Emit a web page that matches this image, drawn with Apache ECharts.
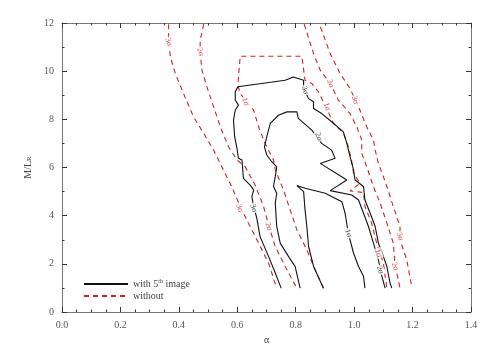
<!DOCTYPE html>
<html>
<head>
<meta charset="utf-8">
<script src="https://cdn.jsdelivr.net/npm/echarts@6/dist/echarts.min.js"></script>
<style>
  html, body { margin: 0; padding: 0; background: #fff; }
  #main { width: 491px; height: 351px; }
</style>
</head>
<body>
<div id="main"></div>
<script>
// contours "with 5th image" (solid black)
var black3 = [[0.75,0.99],[0.73,1.62],[0.707,2.31],[0.678,3.13],[0.667,3.89],[0.656,4.38],[0.65,4.79],[0.656,5.07],
  [0.644,5.27],[0.621,5.55],[0.616,6.31],[0.604,6.38],[0.599,6.79],[0.591,7.28],[0.587,7.97],[0.593,8.38],[0.604,8.59],
  [0.593,8.8],[0.593,9.14],[0.602,9.35],[0.764,9.62],[0.792,9.76],[0.827,9.62],[0.827,9.28],[0.844,8.86],[0.861,8.73],
  [0.861,8.45],[0.889,8.24],[0.923,7.9],[0.963,7.48],[0.975,7.0],[0.986,6.45],[0.998,5.9],[1.003,5.48],[1.032,5.21],
  [1.037,4.65],[1.055,4.1],[1.072,3.55],[1.083,2.86],[1.1,2.31],[1.112,1.89],[1.123,1.2],[1.129,0.99]];
var black2 = [[0.815,0.99],[0.798,1.89],[0.775,2.31],[0.747,2.86],[0.735,3.55],[0.73,4.52],[0.735,4.93],[0.724,5.21],
  [0.73,5.62],[0.735,6.03],[0.718,6.24],[0.701,6.52],[0.693,6.86],[0.701,7.28],[0.713,7.83],[0.741,8.17],[0.77,8.31],
  [0.804,8.31],[0.809,8.04],[0.855,7.55],[0.889,7.0],[0.923,6.72],[0.935,6.38],[0.884,6.17],[0.975,5.48],[0.918,5.04],
  [0.992,4.86],[1.015,4.65],[1.032,4.1],[1.049,3.55],[1.066,2.86],[1.083,2.17],[1.095,1.48],[1.106,0.99]];
var black1 = [[0.895,0.99],[0.861,1.89],[0.844,2.72],[0.838,3.55],[0.832,4.24],[0.827,5.0],[0.804,5.25],[0.832,5.14],
  [0.901,4.93],[0.958,4.58],[0.969,4.1],[0.98,3.27],[0.998,2.44],[1.015,1.89],[1.032,1.48],[1.037,0.99]];

// contours "without" (dashed red)
var red3Left = [[0.365,11.95],[0.365,11.21],[0.371,10.59],[0.388,9.9],[0.416,9.07],[0.45,8.11],[0.485,7.42],[0.519,6.72],
  [0.547,6.03],[0.581,5.21],[0.61,4.38],[0.638,3.69],[0.673,2.86],[0.707,2.03],[0.735,0.99]];
var red2Left = [[0.485,11.95],[0.473,11.28],[0.473,10.8],[0.479,10.04],[0.496,9.35],[0.519,8.52],[0.542,7.69],[0.57,6.86],
  [0.599,6.31],[0.627,6.03],[0.661,5.27],[0.69,4.38],[0.707,3.62],[0.73,2.72],[0.764,1.89],[0.804,0.99]];
var red1 = [[0.895,0.99],[0.867,1.75],[0.838,2.58],[0.804,3.41],[0.781,4.24],[0.758,5.07],[0.73,5.9],[0.724,6.31],
  [0.695,7.0],[0.673,7.69],[0.656,8.38],[0.627,8.8],[0.61,9.07],[0.602,9.42],[0.61,10.62],[0.821,10.62],[0.832,9.62],
  [0.855,9.49],[0.878,9.14],[0.906,8.45],[0.929,7.83],[0.963,7.44],[0.98,6.86],[0.992,6.24],[0.998,5.76],[1.02,5.34],
  [0.986,5.03],[1.032,4.96],[1.037,4.38],[1.06,3.69],[1.077,2.86],[1.1,2.03],[1.112,0.99]];
var red2Right = [[0.829,11.95],[0.861,10.73],[0.884,10.04],[0.918,9.49],[0.946,8.8],[0.986,8.24],[1.009,7.69],[1.026,7.14],
  [1.026,6.59],[1.043,6.03],[1.066,5.21],[1.089,4.52],[1.112,3.69],[1.134,2.86],[1.14,1.96],[1.157,0.99]];
var red3Right = [[0.884,11.83],[0.889,11.7],[0.918,10.73],[0.952,9.9],[0.986,9.28],[1.02,8.38],[1.043,7.69],[1.066,7.14],
  [1.072,6.72],[1.083,6.17],[1.1,5.62],[1.112,5.21],[1.134,4.38],[1.157,3.55],[1.157,3.0],[1.18,2.17],[1.197,1.06]];

// contour labels [x, y, text]
var blackLabels = [[0.832,9.21,'3σ'],[0.878,7.28,'2σ'],[0.656,4.31,'3σ'],[0.98,3.27,'1σ'],[1.089,1.75,'2σ']];
var redLabels = [[0.365,11.21,'3σ'],[0.473,10.8,'2σ'],[0.627,8.73,'1σ'],[0.918,9.49,'2σ'],[0.906,8.52,'1σ'],
  [1.003,8.8,'3σ'],[0.608,4.31,'3σ'],[0.707,3.55,'2σ'],[1.157,3.13,'3σ'],[1.14,1.89,'2σ'],[1.083,2.44,'1σ']];

var xTicks = [0, 1.4, 0.2];
var yTicks = [0, 12, 2];

var chart = echarts.init(document.getElementById('main'));
var font = 'Liberation Serif';
var withName = 'with 5th image';
var withoutName = 'without';

function contour(name, data, dashed) {
  return {
    name: name,
    type: 'line',
    data: data,
    symbol: 'none',
    silent: true,
    z: dashed ? 2 : 3,
    lineStyle: {
      color: dashed ? '#d42020' : '#111',
      width: 1.1,
      type: dashed ? [5, 4] : 'solid'
    },
    itemStyle: { color: dashed ? '#a01010' : '#777' }
  };
}

function labels(data, color) {
  return {
    type: 'scatter',
    data: data.map(function (d) { return { value: [d[0], d[1]], name: d[2] }; }),
    symbolSize: 0,
    itemStyle: { color: 'rgba(0,0,0,0)' },
    silent: true,
    z: 5,
    label: {
      show: true,
      position: 'inside',
      formatter: '{b}',
      rotate: -72,
      fontFamily: font,
      fontSize: 8,
      color: color,
      backgroundColor: '#fff',
      padding: [0, 1]
    }
  };
}

function axis(extra, minorSplit) {
  return Object.assign({
    type: 'value',
    axisLine: { show: true, onZero: false, lineStyle: { color: '#777', width: 1 } },
    axisTick: { inside: true, length: 5, lineStyle: { color: '#333' } },
    minorTick: { show: true, splitNumber: minorSplit, length: 2.5, lineStyle: { color: '#333' } },
    splitLine: { show: false }
  }, extra);
}

var option = {
  animation: false,
  backgroundColor: '#fff',
  grid: { left: 62, right: 20, top: 23, bottom: 39 },
  legend: {
    left: 78,
    top: 273,
    orient: 'vertical',
    itemWidth: 44,
    itemHeight: 10,
    itemGap: 2,
    selectedMode: false,
    itemStyle: { opacity: 0 },
    data: [withName, withoutName],
    formatter: function (n) { return n === withName ? 'with 5{sup|th} image' : n; },
    textStyle: {
      fontFamily: font, fontSize: 10, color: '#444',
      rich: { sup: { fontSize: 6, verticalAlign: 'top', padding: [0, 0, 6, 0], fontFamily: font, color: '#444' } }
    }
  },
  xAxis: [
    axis({
      min: xTicks[0], max: xTicks[1], interval: xTicks[2], position: 'bottom',
      name: 'α', nameLocation: 'middle', nameGap: 22,
      nameTextStyle: { fontFamily: font, fontSize: 10, color: '#444' },
      axisLabel: { fontFamily: font, fontSize: 10, color: '#555', margin: 8,
        formatter: function (v) { return v.toFixed(1); } }
    }, 4),
    axis({
      min: xTicks[0], max: xTicks[1], interval: xTicks[2], position: 'top',
      axisLabel: { show: false }
    }, 4)
  ],
  yAxis: [
    axis({
      min: yTicks[0], max: yTicks[1], interval: yTicks[2], position: 'left',
      name: 'M/L{sub|R}', nameLocation: 'middle', nameGap: 27,
      nameTextStyle: { fontFamily: font, fontSize: 10, color: '#444',
        rich: { sub: { fontSize: 7, verticalAlign: 'bottom', fontFamily: font, color: '#444' } } },
      axisLabel: { fontFamily: font, fontSize: 10, color: '#555', margin: 8 }
    }, 2),
    axis({
      min: yTicks[0], max: yTicks[1], interval: yTicks[2], position: 'right',
      axisLabel: { show: false }
    }, 2)
  ],
  series: [
    contour(withoutName, red3Left, true),
    contour(withoutName, red2Left, true),
    contour(withoutName, red1, true),
    contour(withoutName, red2Right, true),
    contour(withoutName, red3Right, true),
    contour(withName, black3, false),
    contour(withName, black2, false),
    contour(withName, black1, false),
    labels(redLabels, '#d42020'),
    labels(blackLabels, '#222')
  ]
};
chart.setOption(option);
</script>
</body>
</html>
